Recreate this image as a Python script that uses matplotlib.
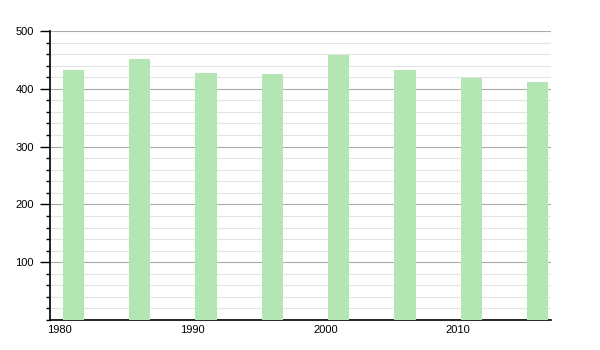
import matplotlib.pyplot as plt
from matplotlib.ticker import MultipleLocator

# ── Data ──────────────────────────────────────────────────────────────────────
years = [1981, 1986, 1991, 1996, 2001, 2006, 2011, 2016]
values = [433, 451, 428, 426, 459, 433, 419, 411]
xticks = [1980, 1990, 2000, 2010]
yticks = [100, 200, 300, 400, 500]

# ── Plot ──────────────────────────────────────────────────────────────────────
plt.rcParams["font.family"] = ["Liberation Sans", "DejaVu Sans"]
fig = plt.figure(figsize=(6, 3.5), dpi=100)
ax = fig.add_axes([50 / 600, 1 - 320 / 350, 501 / 600, 289 / 350])

ax.bar(years, values, width=1.6, color="#b3e6b3", zorder=3)

ax.set_xlim(1979.25, 2017.0)
ax.set_ylim(0, 500)
ax.set_xticks(xticks)
ax.set_yticks(yticks)
ax.yaxis.set_minor_locator(MultipleLocator(20))

ax.grid(True, which="major", axis="y", color="#aaaaaa", linewidth=0.8, zorder=1)
ax.grid(True, which="minor", axis="y", color="#e3e3e3", linewidth=0.8, zorder=0)

ax.tick_params(axis="y", which="major", length=7, width=1, labelsize=8, pad=4.5)
ax.tick_params(axis="y", which="minor", length=3, width=1)
ax.tick_params(axis="x", length=0, labelsize=8, pad=3.5)

ax.spines["top"].set_visible(False)
ax.spines["right"].set_visible(False)
ax.spines["left"].set_linewidth(1.2)
ax.spines["bottom"].set_linewidth(1.2)

fig.savefig("out.png", dpi=100)
